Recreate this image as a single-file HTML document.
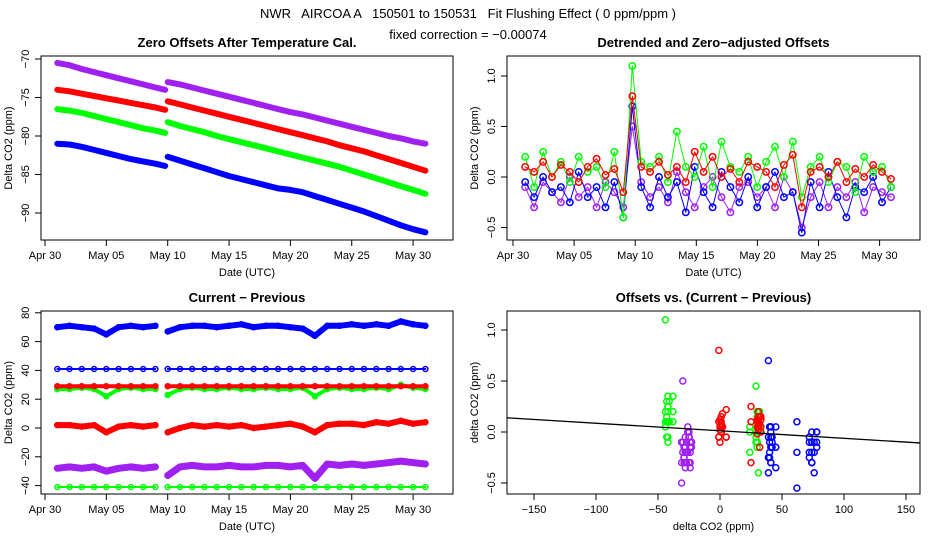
<!DOCTYPE html>
<html><head><meta charset="utf-8"><style>
body{margin:0;background:#fff}
svg{display:block;font-family:"Liberation Sans",sans-serif}
</style></head><body>
<svg id="c" width="936" height="540" viewBox="0 0 936 540">
<text x="468" y="18" text-anchor="middle" font-size="13" style="white-space:pre" xml:space="preserve">NWR   AIRCOA A   150501 to 150531   Fit Flushing Effect ( 0 ppm/ppm )</text>
<text x="468" y="39" text-anchor="middle" font-size="13">fixed correction = −0.00074</text>
</svg>
<script>
// ---- data ----
const p1DaysA=[1,2,3,4,5,6,7,8,9,9.8];
const p1DaysB=[10,11,12,13,14,15,16,17,18,19,20,21,22,23,24,25,26,27,28,29,30,31];
const p1PurpleA=[-70.5,-70.8,-71.3,-71.7,-72.1,-72.5,-72.9,-73.3,-73.7,-74.0];
const p1PurpleB=[-73.0,-73.3,-73.7,-74.1,-74.5,-74.9,-75.3,-75.7,-76.1,-76.5,-76.9,-77.2,-77.6,-78.0,-78.4,-78.8,-79.2,-79.6,-80.0,-80.3,-80.7,-81.0];
const p1RedA=[-74.0,-74.2,-74.5,-74.8,-75.1,-75.4,-75.7,-76.0,-76.3,-76.6];
const p1RedB=[-75.5,-75.9,-76.3,-76.7,-77.1,-77.5,-77.9,-78.3,-78.7,-79.1,-79.5,-79.9,-80.3,-80.7,-81.2,-81.6,-82.0,-82.5,-83.0,-83.5,-84.0,-84.5];
const p1GreenA=[-76.5,-76.7,-77.0,-77.4,-77.8,-78.2,-78.6,-79.0,-79.3,-79.6];
const p1GreenB=[-78.2,-78.7,-79.1,-79.5,-80.0,-80.4,-80.8,-81.2,-81.6,-82.0,-82.4,-82.8,-83.2,-83.6,-84.0,-84.5,-85.0,-85.5,-86.0,-86.5,-87.0,-87.5];
const p1BlueA=[-81.0,-81.1,-81.4,-81.8,-82.2,-82.6,-83.0,-83.3,-83.6,-83.9];
const p1BlueB=[-82.7,-83.2,-83.7,-84.2,-84.7,-85.2,-85.6,-86.0,-86.4,-86.8,-87.0,-87.3,-87.8,-88.3,-88.8,-89.3,-89.8,-90.4,-91.0,-91.6,-92.1,-92.5];

const p2Start=1, p2Step=0.73;
const offRed=[0.1,0.05,0.15,0.0,0.12,0.05,-0.05,0.1,0.18,0.02,0.08,-0.15,0.8,0.1,0.05,0.15,0.02,0.1,-0.05,0.25,0.05,0.2,0.0,0.08,-0.05,0.15,0.1,0.05,-0.1,0.12,0.22,-0.3,0.05,0.1,0.0,0.15,-0.05,0.08,0.0,0.12,0.05,-0.02];
const offGreen=[0.2,-0.1,0.25,0.0,0.15,-0.05,0.2,0.05,0.1,-0.1,0.25,-0.4,1.1,0.15,0.1,0.2,-0.05,0.45,0.1,0.0,0.3,-0.1,0.35,0.1,0.05,0.2,-0.1,0.15,0.3,0.0,0.35,-0.2,0.1,0.2,-0.05,0.15,0.1,-0.15,0.2,0.05,0.1,-0.1];
const offBlue=[-0.05,-0.2,0.0,-0.15,-0.1,-0.25,0.05,-0.2,-0.1,-0.3,-0.05,-0.4,0.7,-0.1,-0.3,0.0,-0.2,-0.05,-0.35,0.1,-0.15,-0.3,0.05,-0.1,-0.25,0.0,-0.3,-0.1,0.05,-0.2,-0.15,-0.55,-0.05,-0.3,0.05,-0.2,-0.4,-0.1,-0.15,0.0,-0.25,-0.1];
const offPurple=[-0.1,-0.3,-0.05,-0.15,-0.25,0.0,-0.2,-0.1,-0.3,-0.05,-0.15,-0.3,0.5,-0.05,-0.2,-0.1,-0.25,0.05,-0.15,-0.3,-0.1,0.0,-0.2,-0.35,-0.1,-0.05,-0.2,-0.1,-0.3,0.0,-0.15,-0.5,-0.2,-0.05,-0.3,-0.1,-0.2,-0.05,-0.35,-0.1,-0.15,-0.2];

const p3Days=[1,2,3,4,5,6,7,8,9,10,11,12,13,14,15,16,17,18,19,20,21,22,23,24,25,26,27,28,29,30,31];
const cpBlueHi=[70,71,70,69,65,70,71,70,71,67,70,71,71,70,71,72,70,71,71,70,69,64,71,71,72,71,72,71,74,72,71];
const cpBlueLo=[41,41,41,41,41,41,41,41,41,41,41,41,41,41,41,41,41,41,41,41,41,41,41,41,41,41,41,41,41,41,41];
const cpRedHi=[29,29,29,29,29,29,29,29,29,29,29,29,29,29,29,29,29,29,29,29,29,29,29,29,29,29,29,29,29,29,29];
const cpGreenHi=[27,27,28,27,22,27,28,27,27,23,27,28,27,27,28,27,27,28,27,27,28,22,27,28,27,27,28,27,30,28,27];
const cpRedLo=[2,2,1,2,-3,1,2,1,2,-3,0,2,1,2,1,2,0,1,2,3,1,-3,2,3,3,2,4,3,5,3,4];
const cpPurple=[-28,-27,-28,-27,-30,-28,-27,-28,-27,-33,-27,-26,-27,-27,-26,-27,-27,-26,-26,-27,-26,-35,-25,-26,-25,-26,-25,-24,-23,-24,-25];
const cpGreenLo=[-41,-41,-41,-41,-41,-41,-41,-41,-41,-41,-41,-41,-41,-41,-41,-41,-41,-41,-41,-41,-41,-41,-41,-41,-41,-41,-41,-41,-41,-41,-41];

const p4GreenX=[-41,28];
const p4RedX=[2,29];
const p4BlueX=[42,70];
const p4PurpleX=[-27];
const p4Jitter=[-3,2,-1,4,-2,1,3,-4,0,2,-1,3];
const fitIntercept=0.012, fitSlope=-0.00074;

const p1Ticks=[-70,-75,-80,-85,-90];
const p2Ticks=[1.0,0.5,0.0,-0.5];
const p3Ticks=[80,60,40,20,0,-20,-40];
const p4XTicks=[-150,-100,-50,0,50,100,150];
const dateTicks=[0,5,10,15,20,25,30];
const dateLabels=["Apr 30","May 05","May 10","May 15","May 20","May 25","May 30"];

const COL={purple:"#a020f0",red:"#ff0000",green:"#00ff00",blue:"#0000ff"};
const svg=document.getElementById('c');
const NS="http://www.w3.org/2000/svg";
function mk(tag,attrs,parent){const e=document.createElementNS(NS,tag);for(const k in attrs)e.setAttribute(k,attrs[k]);(parent||svg).appendChild(e);return e;}

const P=[
 {x0:41,x1:453,y0:56,y1:240},
 {x0:507,x1:920,y0:56,y1:240},
 {x0:41,x1:453,y0:311,y1:494},
 {x0:507,x1:920,y0:311,y1:494}];
const xDate1=d=>45+d*12.27;
const xDate2=d=>513+d*12.22;
const y1=v=>59+(-70-v)*7.7;
const y2=v=>177-v*101;
const y3=v=>428-v*1.44;
const x4=v=>720+v*1.24;
const y4=v=>432-v*102;

function frame(i,name,title,xt,yt){
 const p=P[i];
 const r=mk('rect',{x:p.x0,y:p.y0,width:p.x1-p.x0,height:p.y1-p.y0,fill:'none',stroke:'#000','stroke-width':1});
 
 
 const t=mk('text',{x:(p.x0+p.x1)/2,y:p.y0-9,'text-anchor':'middle','font-size':13,'font-weight':'bold'});
 t.textContent=title;
 
 
 const xa=mk('text',{x:(p.x0+p.x1)/2,y:p.y1+36,'text-anchor':'middle','font-size':11});
 xa.textContent=xt;
 
 
 const cx=p.x0-29, cy=(p.y0+p.y1)/2;
 const ya=mk('text',{x:cx,y:cy,'text-anchor':'middle','font-size':11,transform:`rotate(-90 ${cx} ${cy})`});
 ya.textContent=yt;
 
 
}
function yTicks(i,name,ticks,fy,fmt){
 const p=P[i];
 ticks.forEach(v=>{
  const y=fy(v);
  mk('line',{x1:p.x0-6,x2:p.x0,y1:y,y2:y,stroke:'#000'});
  const tx=p.x0-12;
  const t=mk('text',{x:tx,y:y,'text-anchor':'middle','font-size':11,transform:`rotate(-90 ${tx} ${y})`});
  t.textContent=fmt(v);
  
  
 });
}
function xTicks(i,name,ticks,labels,fx){
 const p=P[i];
 ticks.forEach((v,k)=>{
  const x=fx(v);
  mk('line',{x1:x,x2:x,y1:p.y1,y2:p.y1+6,stroke:'#000'});
  const t=mk('text',{x:x,y:p.y1+19,'text-anchor':'middle','font-size':11});
  t.textContent=labels[k];
  
  
 });
}
const neg=v=>String(v).replace('-','−');
const fmt1=v=>(v<0?'−':'')+Math.abs(v).toFixed(1);

frame(0,'offsets-panel','Zero Offsets After Temperature Cal.','Date (UTC)','Delta CO2 (ppm)');
frame(1,'detrended-panel','Detrended and Zero−adjusted Offsets','Date (UTC)','Delta CO2 (ppm)');
frame(2,'current-previous-panel','Current − Previous','Date (UTC)','Delta CO2 (ppm)');
frame(3,'offsets-vs-cp-panel','Offsets vs. (Current − Previous)','delta CO2 (ppm)','delta CO2 (ppm)');
yTicks(0,'offsets-panel',p1Ticks,y1,neg);
yTicks(1,'detrended-panel',p2Ticks,y2,fmt1);
yTicks(2,'current-previous-panel',p3Ticks,y3,neg);
yTicks(3,'offsets-vs-cp-panel',p2Ticks,y4,fmt1);
xTicks(0,'offsets-panel',dateTicks,dateLabels,xDate1);
xTicks(1,'detrended-panel',dateTicks,dateLabels,xDate2);
xTicks(2,'current-previous-panel',dateTicks,dateLabels,xDate1);
xTicks(3,'offsets-vs-cp-panel',p4XTicks,p4XTicks.map(neg),x4);

function band(days,vals,fx,fy,col,w,name){
 const pts=days.map((d,k)=>fx(d).toFixed(1)+','+fy(vals[k]).toFixed(1)).join(' ');
 const l=mk('polyline',{points:pts,fill:'none',stroke:col,'stroke-width':w,'stroke-linecap':'round','stroke-linejoin':'round'});
 
 
}
[['purple',p1PurpleA,p1PurpleB],['red',p1RedA,p1RedB],['green',p1GreenA,p1GreenB],['blue',p1BlueA,p1BlueB]].forEach(([c,a,b])=>{
 band(p1DaysA,a,xDate1,y1,COL[c],6,'offset-series-'+c);
 band(p1DaysB,b,xDate1,y1,COL[c],6,'offset-series-'+c);
});

function circle(x,y,col,name,r){
 const c=mk('circle',{cx:x.toFixed(1),cy:y.toFixed(1),r:r||3,fill:'none',stroke:col,'stroke-width':1.5});
 
 
}
const offSeries=[['purple',offPurple],['blue',offBlue],['green',offGreen],['red',offRed]];
offSeries.forEach(([c,arr])=>{
 const days=arr.map((v,k)=>p2Start+k*p2Step);
 band(days,arr,xDate2,y2,COL[c],1,'detrended-trace-'+c);
 arr.forEach((v,k)=>circle(xDate2(p2Start+k*p2Step),y2(v),COL[c],'detrended-point-'+c,3.2));
});

[['blue',cpBlueHi,6],['blue',cpBlueLo,2],['green',cpGreenHi,4],['red',cpRedHi,4],['red',cpRedLo,6],['purple',cpPurple,7],['green',cpGreenLo,2]].forEach(([c,arr,w])=>{
 band(p3Days.slice(0,9),arr.slice(0,9),xDate1,y3,COL[c],w,'cp-band-'+c);
 band(p3Days.slice(9),arr.slice(9),xDate1,y3,COL[c],w,'cp-band-'+c);
 arr.forEach((v,k)=>circle(xDate1(p3Days[k]),y3(v),COL[c],'cp-point-'+c,2.5));
});

[['green',offGreen,p4GreenX],['purple',offPurple,p4PurpleX],['red',offRed,p4RedX],['blue',offBlue,p4BlueX]].forEach(([c,arr,xs])=>{
 arr.forEach((v,k)=>{
  const j=p4Jitter[k%p4Jitter.length]*(xs[k%xs.length]===70?2:1);
  circle(x4(xs[k%xs.length]+j),y4(v),COL[c],'scatter-point-'+c);
 });
});
const fit=mk('line',{x1:P[3].x0,y1:y4(fitIntercept+fitSlope*((P[3].x0-720)/1.24)),x2:P[3].x1,y2:y4(fitIntercept+fitSlope*((P[3].x1-720)/1.24)),stroke:'#000','stroke-width':1.3});


</script>
</body></html>
